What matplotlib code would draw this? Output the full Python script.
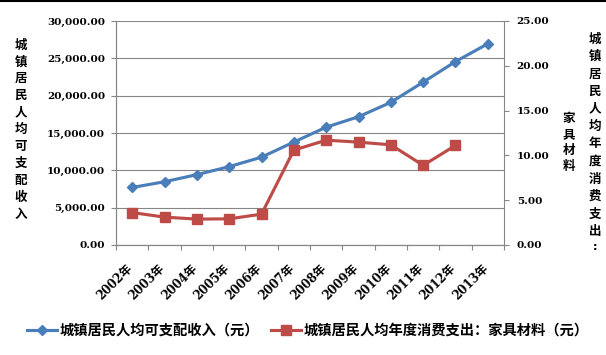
import numpy as np
import matplotlib.pyplot as plt
import matplotlib.transforms as mtransforms
from matplotlib.lines import Line2D
from matplotlib.font_manager import FontProperties
from matplotlib.ticker import FixedLocator, FuncFormatter

# データ
years = ['2002年', '2003年', '2004年', '2005年', '2006年', '2007年',
         '2008年', '2009年', '2010年', '2011年', '2012年', '2013年']
income = [7703, 8472, 9422, 10493, 11759, 13786,
          15781, 17175, 19109, 21810, 24565, 26955]
furniture = [3.62, 3.11, 2.89, 2.92, 3.44, 10.59,
             11.70, 11.48, 11.18, 8.89, 11.11, np.nan]
income_label = '城镇居民人均可支配收入（元）'
furniture_label = '城镇居民人均年度消费支出：家具材料（元）'

GRAY = '#868686'
BLUE = '#4A7EBB'
RED = '#BE4B48'
num_font = dict(family='DejaVu Serif', weight='bold', size=7.5)
cjk = FontProperties(family='Noto Sans CJK SC', weight='bold', size=9)

fig = plt.figure(figsize=(6.06, 3.55), dpi=100)
ax1 = fig.add_axes([116 / 606, 1 - 245 / 355, 388 / 606, 224 / 355])
ax2 = ax1.twinx()

x = np.arange(len(years))
l1, = ax1.plot(x, income, color=BLUE, lw=2.25, marker='D', markersize=5.5,
               label=income_label, zorder=3)
l2, = ax2.plot(x, furniture, color=RED, lw=2.25, marker='s', markersize=7.5,
               label=furniture_label, zorder=3)

# 軸の範囲と目盛
ax1.set_xlim(-0.5, len(years) - 0.5)
ax1.set_ylim(0, 30000)
ax2.set_ylim(0, 25)
ax1.set_yticks(np.arange(0, 30001, 5000))
ax2.set_yticks(np.arange(0, 26, 5))
ax1.yaxis.set_major_formatter(FuncFormatter(lambda v, p: f'{v:,.2f}'))
ax2.yaxis.set_major_formatter(FuncFormatter(lambda v, p: f'{v:.2f}'))

ax1.set_xticks(x)
ax1.set_xticklabels(years, rotation=45, ha='right',
                    family=['DejaVu Serif', 'Noto Sans CJK SC'],
                    weight='bold', size=8.5)
ax1.xaxis.set_minor_locator(FixedLocator(np.arange(-0.5, len(years), 1)))
ax1.tick_params(axis='x', which='major', length=0, pad=12)
ax1.tick_params(axis='x', which='minor', length=3.6, color=GRAY, width=0.8)
offset = mtransforms.ScaledTranslation(0.03, 0, fig.dpi_scale_trans)
for lab in ax1.get_xticklabels():
    lab.set_transform(lab.get_transform() + offset)

ax1.tick_params(axis='y', length=3.6, pad=4.3, color=GRAY, width=0.8)
ax2.tick_params(axis='y', length=3.6, pad=5.5, color=GRAY, width=0.8)
for lab in ax1.get_yticklabels() + ax2.get_yticklabels():
    lab.set(**num_font)

# グリッドと枠線
ax1.yaxis.grid(True, color=GRAY, lw=0.8)
ax1.set_axisbelow(True)
for ax in (ax1, ax2):
    ax.spines['top'].set_visible(False)
    for s in ('left', 'right', 'bottom'):
        ax.spines[s].set_color(GRAY)
        ax.spines[s].set_linewidth(0.8)
ax1.spines['right'].set_visible(False)

# 縦書きの軸ラベル
for i, ch in enumerate('城镇居民人均可支配收入'):
    fig.text(21 / 606, 1 - (45 + i * 16.9) / 355, ch, ha='center',
             va='center', fontproperties=cjk)
for i, ch in enumerate('城镇居民人均年度消费支出'):
    fig.text(595 / 606, 1 - (39 + i * 17.5) / 355, ch, ha='center',
             va='center', fontproperties=cjk)
fig.text(595 / 606, 1 - 247 / 355, ':', ha='center', va='center',
         family='DejaVu Sans', weight='bold', size=8)
for i, ch in enumerate('家具材料'):
    fig.text(569 / 606, 1 - (118 + i * 16.3) / 355, ch, ha='center',
             va='center', fontproperties=cjk)

# 凡例
fig.legend([l1, l2], [income_label, furniture_label], loc='center',
           bbox_to_anchor=(308 / 606, 1 - 331 / 355), ncol=2, frameon=False,
           prop=FontProperties(family='Noto Sans CJK SC', weight='bold', size=10.3),
           handlelength=2.1, handletextpad=0.2, columnspacing=0.8,
           borderaxespad=0, borderpad=0)

# 上端の枠線
fig.add_artist(Line2D([0, 1], [0.997, 0.997], color='black', lw=1.5,
                      transform=fig.transFigure))

fig.savefig('out.png', dpi=100)
